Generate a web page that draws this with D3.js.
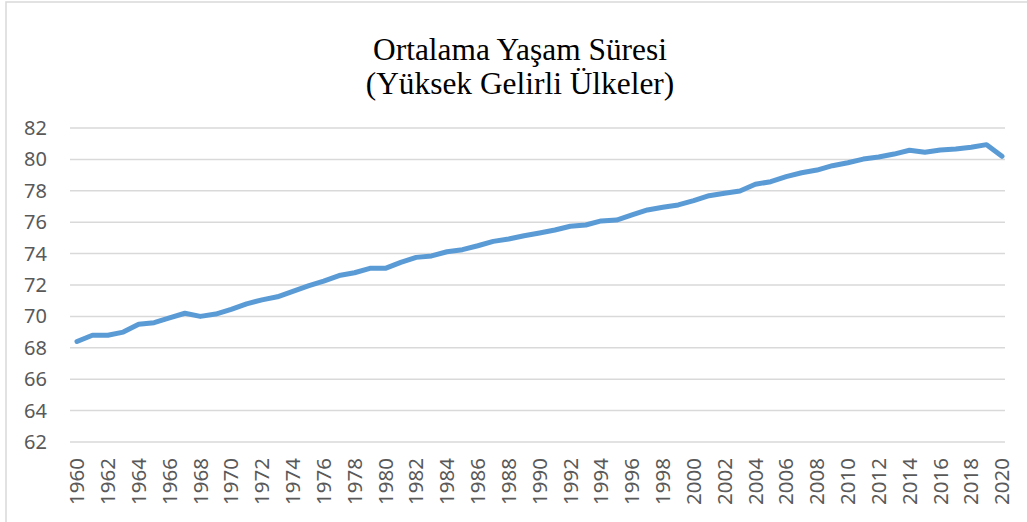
<!DOCTYPE html>
<html>
<head>
<meta charset="utf-8">
<script src="https://cdn.jsdelivr.net/npm/d3@7"></script>
<style>
  body { margin: 0; background: #fff; }
  svg { display: block; }
</style>
</head>
<body>
<div id="chart"></div>
<script>
const WIDTH = 1027;
const HEIGHT = 522;

// yıllar ve ortalama yaşam süresi (yüksek gelirli ülkeler)
const years = d3.range(1960, 2021);
const lifeExp = [
  68.4, 68.8, 68.8, 69.0, 69.5, 69.6, 69.9, 70.2, 70.0, 70.15,
  70.45, 70.8, 71.05, 71.25, 71.6, 71.95, 72.25, 72.6, 72.78, 73.06,
  73.06, 73.44, 73.76, 73.85, 74.12, 74.25, 74.5, 74.78, 74.93, 75.14,
  75.31, 75.5, 75.74, 75.82, 76.08, 76.14, 76.46, 76.78, 76.95, 77.1,
  77.37, 77.69, 77.84, 77.99, 78.42, 78.58, 78.9, 79.15, 79.32, 79.6,
  79.79, 80.02, 80.15, 80.34, 80.58, 80.45, 80.6, 80.66, 80.77, 80.94,
  80.2
];
const yTicks = [62, 64, 66, 68, 70, 72, 74, 76, 78, 80, 82];
const xTicks = years.filter(y => y % 2 === 0);
const titleLines = ["Ortalama Yaşam Süresi", "(Yüksek Gelirli Ülkeler)"];

const svg = d3.select('#chart').append('svg')
  .attr('width', WIDTH)
  .attr('height', HEIGHT);

// çerçeve
svg.append('rect')
  .attr('x', 6).attr('y', 2)
  .attr('width', 1040).attr('height', 540)
  .attr('fill', 'none')
  .attr('stroke', '#d9d9d9')
  .attr('stroke-width', 1.5);

// başlık
svg.append('text')
  .attr('x', 520)
  .attr('y', 60)
  .attr('text-anchor', 'middle')
  .style('font-family', '"Liberation Serif", "Times New Roman", serif')
  .style('font-size', '31.4px')
  .style('fill', '#000')
  .selectAll('tspan')
  .data(titleLines)
  .enter()
  .append('tspan')
  .attr('x', 520)
  .attr('dy', (d, i) => i === 0 ? 0 : 33.5)
  .text(d => d);

const x = d3.scalePoint()
  .domain(years)
  .range([77, 1002]);

const y = d3.scaleLinear()
  .domain([62, 82])
  .range([442, 128]);

// yatay kılavuz çizgileri
svg.append('g')
  .selectAll('line')
  .data(yTicks)
  .enter()
  .append('line')
  .attr('x1', 70)
  .attr('x2', 1005)
  .attr('y1', d => y(d))
  .attr('y2', d => y(d))
  .style('stroke', '#d9d9d9')
  .style('stroke-width', 1.5);

// y ekseni etiketleri
svg.append('g')
  .selectAll('text')
  .data(yTicks)
  .enter()
  .append('text')
  .attr('x', 47)
  .attr('y', d => y(d))
  .attr('dy', '0.35em')
  .attr('text-anchor', 'end')
  .style('font-family', '"Noto Sans", sans-serif')
  .style('font-size', '20px')
  .style('fill', '#595959')
  .text(d => d);

// x ekseni etiketleri (dikey)
svg.append('g')
  .selectAll('text')
  .data(xTicks)
  .enter()
  .append('text')
  .attr('transform', d => 'translate(' + x(d) + ',458) rotate(-90)')
  .attr('dy', '0.35em')
  .attr('text-anchor', 'end')
  .style('font-family', '"Noto Sans", sans-serif')
  .style('font-size', '20.5px')
  .style('fill', '#595959')
  .text(d => d);

// çizgi
const line = d3.line()
  .x((d, i) => x(years[i]))
  .y(d => y(d));

svg.append('path')
  .datum(lifeExp)
  .attr('d', line)
  .style('fill', 'none')
  .style('stroke', '#5b9bd5')
  .style('stroke-width', 5)
  .style('stroke-linejoin', 'round')
  .style('stroke-linecap', 'round');
</script>
</body>
</html>
